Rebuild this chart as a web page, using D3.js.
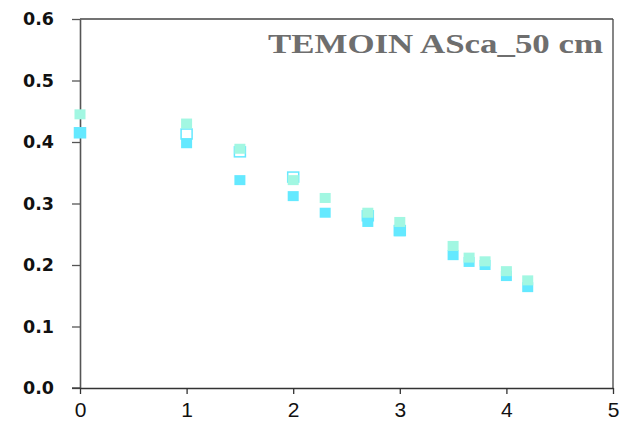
<!DOCTYPE html>
<html><head><meta charset="utf-8">
<script src="https://cdn.jsdelivr.net/npm/d3@7"></script>
<style>body{margin:0;background:#fff}</style>
</head><body><svg id="c" width="640" height="430"></svg>
<script>
const title = "TEMOIN ASca_50 cm";
const xTicks = [0,1,2,3,4,5];
const yTicks = [0,0.1,0.2,0.3,0.4,0.5,0.6];
const xHollow = [0,1,1.5,2,2.7,3];
const yHollow = [0.415,0.413,0.384,0.343,0.280,0.256];
const xCyan = [0,1,1.5,2,2.3,2.7,3,3.5,3.65,3.8,4,4.2];
const yCyan = [0.415,0.398,0.338,0.312,0.285,0.270,0.255,0.216,0.205,0.200,0.182,0.164];
const xAqua = [0,1,1.5,2,2.3,2.7,3,3.5,3.65,3.8,4,4.2];
const yAqua = [0.445,0.430,0.389,0.338,0.309,0.285,0.270,0.231,0.212,0.206,0.190,0.175];

const svg = d3.select("#c");
const x = d3.scaleLinear().domain([0,5]).range([80,613]);
const y = d3.scaleLinear().domain([0,0.6]).range([388,19]);

svg.append("line").attr("x1",80).attr("x2",613).attr("y1",19).attr("y2",19).attr("stroke","#444").attr("stroke-width",1.3);
svg.append("line").attr("x1",613).attr("x2",613).attr("y1",19).attr("y2",388).attr("stroke","#444").attr("stroke-width",1.3);

const ya = svg.append("g").attr("transform","translate(80,0)")
  .call(d3.axisLeft(y).tickValues(yTicks).tickFormat(d3.format(".1f")).tickSize(8).tickSizeOuter(0));
ya.select(".domain").attr("stroke","#555").attr("stroke-width",1.6);
ya.selectAll(".tick line").attr("stroke","#555").attr("stroke-width",1.3);
ya.selectAll("text").attr("font-family","DejaVu Sans").attr("font-weight","bold").attr("font-size",17.5).attr("fill","#111").attr("x",-26);

const xa = svg.append("g").attr("transform","translate(0,388)")
  .call(d3.axisBottom(x).tickValues(xTicks).tickFormat(d3.format("d")).tickSize(6).tickSizeOuter(0));
xa.select(".domain").attr("stroke","#333").attr("stroke-width",1.3);
xa.selectAll(".tick line").attr("stroke","#333").attr("stroke-width",1.3);
xa.selectAll("text").attr("font-family","Liberation Sans").attr("font-size",21).attr("fill","#111").attr("y",14);
svg.append("line").attr("x1",72).attr("x2",80).attr("y1",388).attr("y2",388).attr("stroke","#333").attr("stroke-width",1.3);

const W = 11, H = 10;
function draw(xs, ys, fill, stroke){
  svg.append("g").selectAll("rect").data(xs.map((d,i)=>[d,ys[i]])).join("rect")
    .attr("x",d=>x(d[0])-W/2).attr("y",d=>y(d[1])-H/2).attr("width",W).attr("height",H)
    .attr("fill",fill).attr("stroke",stroke).attr("stroke-width",stroke==="none"?0:1.5);
}
draw(xHollow, yHollow, "#ffffff", "#66e8ff");
draw(xCyan, yCyan, "#64e9ff", "none");
draw(xAqua, yAqua, "#a2f7e2", "none");

svg.append("text").attr("x",268).attr("y",53)
  .attr("textLength",335).attr("lengthAdjust","spacingAndGlyphs")
  .attr("font-family","Liberation Serif").attr("font-weight","bold").attr("font-size",27)
  .attr("fill","#6e6e6e").text(title);
</script></body></html>
